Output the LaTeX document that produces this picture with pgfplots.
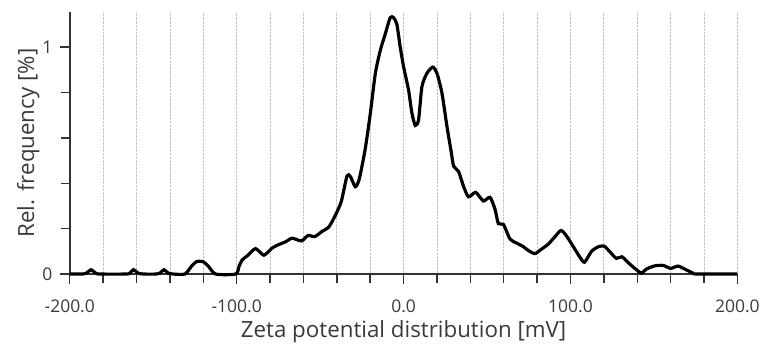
\documentclass[border=0pt]{standalone}
\usepackage{pgfplots}
\pgfplotsset{compat=1.18}
\usepackage{fontspec}
\setmainfont{Open Sans}
\definecolor{txt}{HTML}{3A3A3A}
\definecolor{axc}{HTML}{333333}
\definecolor{gridc}{HTML}{C4C4C4}
\begin{document}
\begin{tikzpicture}
\begin{axis}[
  scale only axis,
  width=670bp, height=263bp,
  xmin=-200, xmax=200, ymin=0, ymax=1.155,
  axis lines*=left,
  axis line style={axc, line width=1.8pt},
  xtick={-200,-100,0,100,200},
  xticklabels={-200.0,-100.0,0.0,100.0,200.0},
  minor xtick={-180,-160,-140,-120,-80,-60,-40,-20,20,40,60,80,120,140,160,180},
  ytick={0,1},
  minor ytick={0.2,0.4,0.6,0.8},
  tick align=outside,
  major tick length=10bp, minor tick length=8.5bp,
  every tick/.style={axc, line width=1.4pt},
  every minor tick/.style={axc, line width=1.4pt},
  xmajorgrids, xminorgrids,
  major grid style={gridc, densely dotted, line width=0.8pt},
  minor grid style={gridc, densely dotted, line width=0.8pt},
  ticklabel style={font=\fontsize{17.6}{20}\selectfont, text=txt},
  /pgf/number format/assume math mode=true,
  xticklabel style={yshift=-12bp},
  yticklabel style={xshift=-4bp},
  xlabel={Zeta potential distribution [mV]},
  ylabel={Rel. frequency [\%]},
  label style={font=\fontsize{22.5}{24}\selectfont, text=txt},
  xlabel style={yshift=-1bp},
  ylabel style={yshift=-4bp},
  clip=false,
]
\addplot[black, line width=3.2pt, smooth, tension=0.4] coordinates {
(-200,0) (-192,0) (-190,0.004) (-187.3,0.019) (-184.5,0.004) (-182,0)
(-166,0) (-164,0.004) (-161.8,0.019) (-159,0.004) (-156,0)
(-148,0) (-146,0.004) (-143.5,0.019) (-141,0.004) (-138,0)
(-131,0) (-127,0.035) (-124,0.055) (-120,0.054) (-117,0.035) (-112.6,0)
(-100.6,0) (-98.5,0.035) (-96.7,0.062) (-93.7,0.08) (-88.7,0.112)
(-83.7,0.083) (-78.7,0.115) (-74.7,0.13) (-70.7,0.142) (-66.8,0.158)
(-61.2,0.146) (-57.2,0.17) (-53.2,0.165) (-48.8,0.188) (-44.8,0.207)
(-40.8,0.26) (-37.3,0.32) (-33.9,0.432) (-31.9,0.43) (-28.9,0.385)
(-26.5,0.42) (-22.9,0.555) (-19.9,0.709) (-16.9,0.885) (-13.9,0.987)
(-10.9,1.06) (-8.0,1.13) (-6.0,1.13) (-4.0,1.1) (-2.0,1.0) (0,0.914)
(3,0.81) (5,0.709) (7,0.655) (9,0.68) (11,0.826) (14,0.885) (17.5,0.912)
(20,0.885) (23,0.797) (26,0.65) (28.5,0.54) (30,0.475) (32.9,0.453)
(35.9,0.387) (38.9,0.34) (43.2,0.36) (47.8,0.322) (51.8,0.338)
(54.8,0.285) (56.8,0.222) (59.8,0.219) (63.8,0.154) (67.8,0.136)
(71.7,0.121) (74.7,0.104) (78.7,0.09) (82.7,0.11) (86.7,0.132)
(90.3,0.161) (94.3,0.192) (97.6,0.168) (102.6,0.11) (105.6,0.075)
(108.4,0.052) (112.6,0.1) (116.6,0.12) (120.2,0.123) (123.6,0.098)
(127.5,0.069) (130.9,0.076) (135.5,0.044) (139.5,0.019) (142.5,0.004)
(145.5,0.022) (150.5,0.036) (155.5,0.038) (160,0.025) (164.4,0.035)
(168.4,0.022) (173.4,0.004) (176,0) (200,0)
};
\end{axis}
\path ([xshift=-70bp,yshift=-74bp]current axis.south west) rectangle ([xshift=23bp,yshift=12bp]current axis.north east);
\end{tikzpicture}
\end{document}
